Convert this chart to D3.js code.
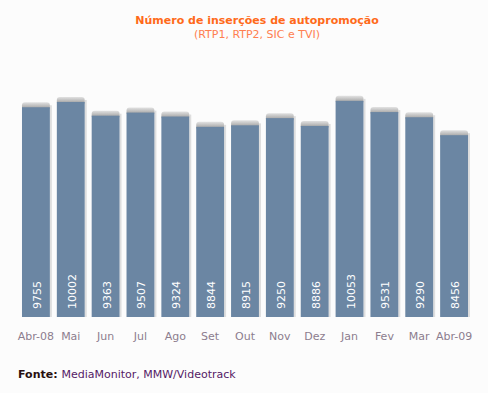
<!DOCTYPE html>
<html>
<head>
<meta charset="utf-8">
<script src="https://cdn.jsdelivr.net/npm/d3@7"></script>
<style>
  body { margin: 0; background: #fcfcfc; }
  svg { display: block; font-family: "DejaVu Sans", Verdana, sans-serif; }
</style>
</head>
<body>
<svg id="chart" width="488" height="393"></svg>
<script>
var months = ["Abr-08", "Mai", "Jun", "Jul", "Ago", "Set", "Out", "Nov", "Dez", "Jan", "Fev", "Mar", "Abr-09"]
var values = [9755, 10002, 9363, 9507, 9324, 8844, 8915, 9250, 8886, 10053, 9531, 9290, 8456]

var width = 488, height = 393
var svg = d3.select("#chart")

svg.append("rect").attr("width", width).attr("height", height).attr("fill", "#fcfcfc")

var defs = svg.append("defs")
var grad = defs.append("linearGradient").attr("id", "cap").attr("x1", 0).attr("y1", 0).attr("x2", 0).attr("y2", 1)
grad.append("stop").attr("offset", "0%").attr("stop-color", "#e2e2e2")
grad.append("stop").attr("offset", "100%").attr("stop-color", "#8e8e8e")

var xScale = d3.scaleBand().domain(months).range([18.5, 471.5]).paddingInner(0.2).paddingOuter(0.1)
var yScale = d3.scaleLinear().domain([0, 10000]).range([317, 102])

var data = months.map(function(m, i) { return {month: m, value: values[i]} })

var g = svg.append("g")

// light shadow on the right of each bar
g.selectAll(".shadow").data(data).enter().append("rect")
  .attr("class", "shadow")
  .attr("x", function(d) { return xScale(d.month) + xScale.bandwidth() })
  .attr("y", function(d) { return yScale(d.value) - 2 })
  .attr("width", 2)
  .attr("height", function(d) { return yScale(0) - yScale(d.value) + 2 })
  .attr("fill", "#dedede")

// grey rounded cap
g.selectAll(".cap").data(data).enter().append("rect")
  .attr("class", "cap")
  .attr("x", function(d) { return xScale(d.month) })
  .attr("y", function(d) { return yScale(d.value) - 5 })
  .attr("width", xScale.bandwidth())
  .attr("height", 8)
  .attr("rx", 3)
  .attr("fill", "url(#cap)")

g.selectAll(".bar").data(data).enter().append("rect")
  .attr("class", "bar")
  .attr("x", function(d) { return xScale(d.month) })
  .attr("y", function(d) { return yScale(d.value) })
  .attr("width", xScale.bandwidth())
  .attr("height", function(d) { return yScale(0) - yScale(d.value) })
  .attr("fill", "#6b86a3")

// values inside bars
g.selectAll(".val").data(data).enter().append("text")
  .attr("class", "val")
  .attr("transform", function(d) {
    return "translate(" + [xScale(d.month) + xScale.bandwidth() / 2 + 5, 309] + ")rotate(-90)"
  })
  .attr("fill", "#ffffff")
  .style("font-size", "11px")
  .text(function(d) { return d.value })

// x axis labels
var xAxis = d3.axisBottom(xScale).tickSize(0).tickPadding(0)
var ax = svg.append("g").attr("transform", "translate(0,332)").call(xAxis)
ax.select(".domain").remove()
ax.selectAll("text")
  .attr("fill", "#8c7d8e")
  .style("font-size", "11px")
  .style("font-family", "'DejaVu Sans', Verdana, sans-serif")

// titles
svg.append("text")
  .attr("x", 257).attr("y", 24)
  .attr("text-anchor", "middle")
  .attr("fill", "#ff6a1a")
  .style("font-size", "11px")
  .style("font-weight", "bold")
  .text("Número de inserções de autopromoção")
svg.append("text")
  .attr("x", 257).attr("y", 38)
  .attr("text-anchor", "middle")
  .attr("fill", "#ff7f50")
  .style("font-size", "11px")
  .text("(RTP1, RTP2, SIC e TVI)")

// source
var src = svg.append("text").attr("x", 18).attr("y", 378).style("font-size", "11px")
src.append("tspan").attr("font-weight", "bold").attr("fill", "#2a1010").text("Fonte: ")
src.append("tspan").attr("fill", "#551a66").text("MediaMonitor, MMW/Videotrack")
</script>
</body>
</html>
